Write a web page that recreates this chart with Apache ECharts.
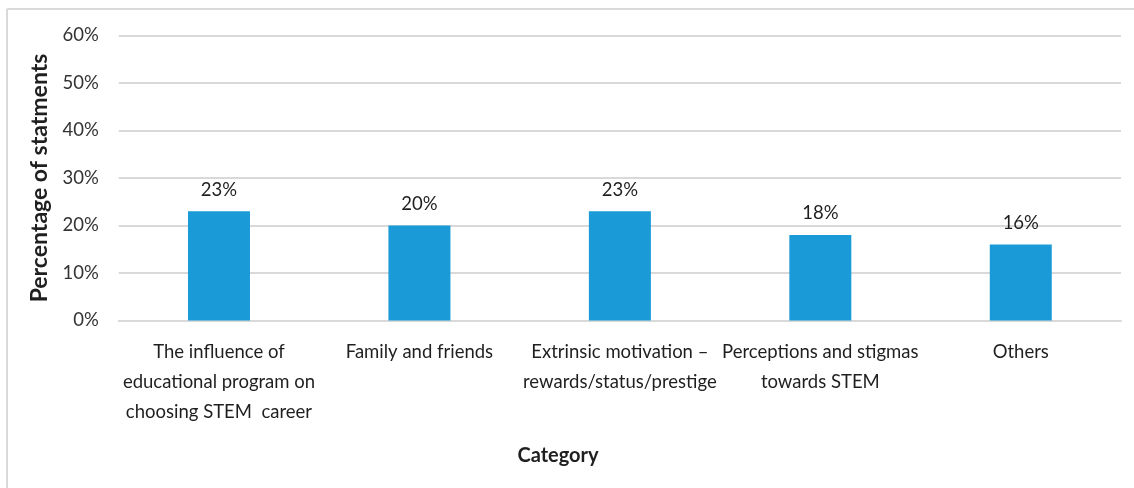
<!DOCTYPE html>
<html>
<head>
<meta charset="utf-8">
<script src="https://cdn.jsdelivr.net/npm/echarts@6/dist/echarts.min.js"></script>
<style>
  html, body { margin: 0; padding: 0; background: #fff; }
  #chart { width: 1134px; height: 488px; }
</style>
</head>
<body>
<div id="chart"></div>
<script>
// Share of statements per category (percent)
const categories = [
  'The influence of\neducational program on\nchoosing STEM  career',
  'Family and friends',
  'Extrinsic motivation \u2013\nrewards/status/prestige',
  'Perceptions and stigmas\ntowards STEM',
  'Others'
];
const percentages = [23, 20, 23, 18, 16];
const yTicks = [0, 10, 20, 30, 40, 50, 60];

const FONT = 'Lato, "Open Sans", sans-serif';
const chart = echarts.init(document.getElementById('chart'), null, { renderer: 'canvas' });

chart.setOption({
  backgroundColor: '#ffffff',
  animation: false,
  title: {
    text: 'Category',
    left: 553,
    top: 441,
    textAlign: 'center',
    textStyle: { fontFamily: FONT, fontSize: 20, fontWeight: 'bold', color: '#1f1f1f' }
  },
  graphic: [
    { type: 'line', shape: { x1: 7, y1: 9, x2: 1134, y2: 9 }, style: { stroke: '#d9d9d9', lineWidth: 2 } },
    { type: 'line', shape: { x1: 7, y1: 9, x2: 7, y2: 488 }, style: { stroke: '#d9d9d9', lineWidth: 2 } }
  ],
  grid: { left: 118.75, right: 13, top: 35.5, bottom: 167.5, containLabel: false },
  xAxis: {
    type: 'category',
    data: categories,
    axisTick: { show: false },
    axisLine: { show: true, lineStyle: { color: '#d9d9d9', width: 2 } },
    axisLabel: {
      interval: 0,
      margin: 17,
      fontFamily: FONT,
      fontSize: 18.5,
      lineHeight: 30,
      color: '#1f1f1f'
    }
  },
  yAxis: {
    type: 'value',
    min: yTicks[0],
    max: yTicks[yTicks.length - 1],
    interval: 10,
    name: 'Percentage of statments',
    nameLocation: 'middle',
    nameRotate: 90,
    nameGap: 58,
    nameTextStyle: { fontFamily: FONT, fontSize: 23, fontWeight: 'bold', color: '#1f1f1f' },
    axisLine: { show: false },
    axisTick: { show: false },
    splitLine: { lineStyle: { color: '#d9d9d9', width: 2 } },
    axisLabel: {
      margin: 20,
      fontFamily: FONT,
      fontSize: 18.5,
      color: '#333333',
      formatter: v => v + '%'
    }
  },
  series: [{
    type: 'bar',
    data: percentages,
    barWidth: 62,
    itemStyle: { color: '#1a9bd7' },
    label: {
      show: true,
      position: 'top',
      distance: 12,
      fontFamily: FONT,
      fontSize: 18.5,
      color: '#1f1f1f',
      formatter: p => p.value + '%'
    }
  }]
});
</script>
</body>
</html>
